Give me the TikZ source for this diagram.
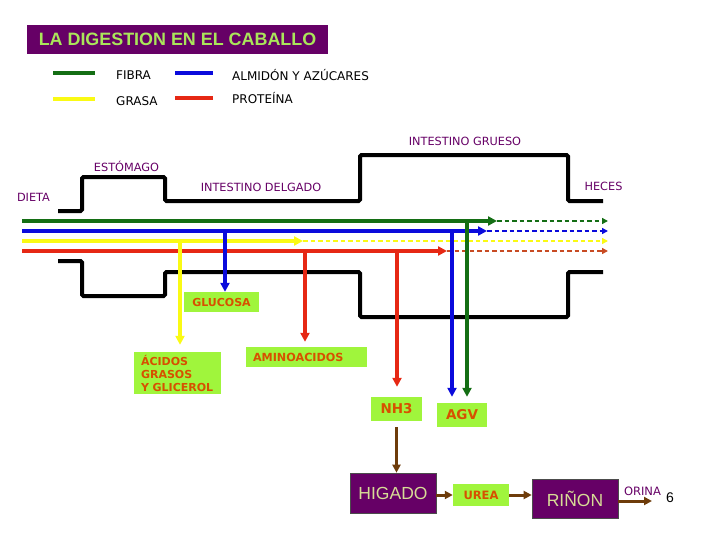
\documentclass[tikz,border=0pt]{standalone}
\usepackage{fontspec}
\setmainfont{DejaVu Sans}
\newfontfamily\arialfont{Liberation Sans}
\usetikzlibrary{arrows.meta,positioning,calc}
\definecolor{Morado}  {RGB}{102,  0,102}
\definecolor{Fibra}   {RGB}{ 20,110, 20}
\definecolor{Almidon} {RGB}{ 10, 10,220}
\definecolor{Grasa}   {RGB}{250,250, 20}
\definecolor{Proteina}{RGB}{230, 40, 20}
\definecolor{ProtRest}{RGB}{200, 75, 35}
\definecolor{Lima}    {RGB}{160,245, 60}
\definecolor{Naranja} {RGB}{215, 80,  0}
\definecolor{Titulo}  {RGB}{170,230, 90}
\definecolor{Paja}    {RGB}{215,220,150}
\definecolor{Cafe}    {RGB}{110, 60, 10}

\begin{document}
\begin{tikzpicture}[x=1pt,y=-1pt,
      tube/.style={line width=4pt,rounded corners=1.5pt},
      flow/.style={line width=3.5pt,-{Triangle[length=9pt,width=9pt]}},
      rest/.style={line width=1.8pt,dash pattern=on 4.5pt off 3pt,
                   -{Triangle[length=6pt,width=6pt]}},
      key/.style={line width=4pt},
      keytxt/.style={anchor=west,inner sep=0pt,font=\fontsize{12}{14}\selectfont},
      part/.style={text=Morado,inner sep=0pt,font=\fontsize{11.3}{13}\selectfont},
      prod/.style={rectangle,fill=Lima,text=Naranja,inner sep=0pt,
                   font=\bfseries\fontsize{11}{13}\selectfont},
      organ/.style={rectangle,fill=Morado,draw=black!70,line width=0.6pt,text=Paja,
                    font=\arialfont\fontsize{17.5}{20}\selectfont,
                    minimum width=86pt,minimum height=40pt,inner sep=0pt},
      brw/.style={line width=3pt,Cafe,-{Triangle[length=8pt,width=8pt]}}]
    \useasboundingbox (0,0) rectangle (705,533);
    \node[fill=Morado,text=Titulo,minimum width=301pt,minimum height=29pt,inner sep=0pt,
          font=\arialfont\bfseries\fontsize{17.9}{20}\selectfont](titulo) at (177.5,39.5)
          {LA DIGESTION EN EL CABALLO};
    \draw[key,Fibra] (53,73) -- (95,73);
    \draw[key,Grasa] (53,99) -- (95,99);
    \draw[key,Almidon] (175,73) -- (213,73);
    \draw[key,Proteina] (175,98) -- (213,98);
    \node[keytxt](kfib) at (116,75) {FIBRA};
    \node[keytxt](kgra) at (116,101) {GRASA};
    \node[keytxt](kalm) at (232,75) {ALMIDÓN Y AZÚCARES};
    \node[keytxt](kpro) at (232,98) {PROTEÍNA};
    \draw[tube] (58,211) -- (82,211) -- (82,177) -- (165,177) -- (165,201) -- (360,201)
          -- (360,155) -- (568,155) -- (568,201) -- (603,201);
    \draw[tube] (58,261) -- (82,261) -- (82,296) -- (165,296) -- (165,272) -- (360,272)
          -- (360,317) -- (568,317) -- (568,272) -- (603,272);
    \node[part](dieta) at (33.5,197) {DIETA};
    \node[part](estomago) at (126.5,166) {ESTÓMAGO};
    \node[part](delgado) at (261,187) {INTESTINO DELGADO};
    \node[part](grueso) at (465,141) {INTESTINO GRUESO};
    \node[part](heces) at (603.5,186) {HECES};
    \coordinate (g0) at (22,221); \coordinate (g1) at (497,221); \coordinate (g2) at (608,221);
    \coordinate (b0) at (22,231); \coordinate (b1) at (487,231); \coordinate (b2) at (608,231);
    \coordinate (y0) at (22,241); \coordinate (y1) at (303,241); \coordinate (y2) at (608,241);
    \coordinate (r0) at (22,251); \coordinate (r1) at (447,251); \coordinate (r2) at (608,251);
    \draw[rest,Fibra] (g1) -- (g2);
    \draw[rest,Almidon] (b1) -- (b2);
    \draw[rest,Grasa] (y1) -- (y2);
    \draw[rest,ProtRest] (r1) -- (r2);
    \draw[flow,Fibra] (g0) -- (g1);
    \draw[flow,Almidon] (b0) -- (b1);
    \draw[flow,Grasa] (y0) -- (y1);
    \draw[flow,Proteina] (r0) -- (r1);
    \node[prod,minimum width=75pt,minimum height=20pt](glucosa) at (221.5,302) {GLUCOSA};
    \node[prod,text width=73pt,inner xsep=7pt,minimum height=42pt,align=left](acidos)
          at (177.5,373) {ÁCIDOS\\GRASOS\\Y GLICEROL};
    \node[prod,text width=107pt,inner xsep=7pt,minimum height=20pt,align=left,
          font=\bfseries\fontsize{11.2}{13}\selectfont](amino) at (306.5,357) {AMINOACIDOS};
    \node[prod,minimum width=51pt,minimum height=24pt,
          font=\bfseries\fontsize{13.5}{15}\selectfont](nh3) at (396.5,409) {NH3};
    \node[prod,minimum width=50pt,minimum height=24pt,
          font=\bfseries\fontsize{13.5}{15}\selectfont](agv) at (462,415) {AGV};
    \coordinate (yb) at (180,241);
    \coordinate (bb) at (225,231);
    \coordinate (rb) at (305,251);
    \coordinate (rn) at (397,251);
    \coordinate (ba) at (452,231);
    \coordinate (ga) at (467,221);
    \draw[flow,Grasa,shorten >=7pt] (yb) -- (yb |- acidos.north);
    \draw[flow,Almidon] (bb) -- (bb |- glucosa.north);
    \draw[flow,Proteina,shorten >=5pt] (rb) -- (rb |- amino.north);
    \draw[flow,Proteina,shorten >=10pt] (rn) -- (rn |- nh3.north);
    \draw[flow,Almidon,shorten >=6pt] (ba) -- (ba |- agv.north);
    \draw[flow,Fibra,shorten >=6pt] (ga) -- (ga |- agv.north);
    \node[organ](higado) at (393,493) {HIGADO};
    \node[prod,minimum width=56pt,minimum height=22pt,
          font=\bfseries\fontsize{11.5}{13}\selectfont](urea) at (481,495) {UREA};
    \node[organ,minimum height=39pt](rinon) at (575,498.5) {RIÑON};
    \coordinate (orina) at (652,501);
    \node[part,font=\fontsize{11.5}{13}\selectfont](orinatxt) at (642.5,491) {ORINA};
    \node[inner sep=0pt,font=\arialfont\fontsize{14}{16}\selectfont](pag) at (670,498) {6};
    \draw[brw,shorten <=6pt] (nh3.south) -- (nh3.south |- higado.north);
    \draw[brw] (higado.east |- urea.west) -- (urea.west);
    \draw[brw] (urea.east) -- (urea.east -| rinon.west);
    \draw[brw] (rinon.east |- orina) -- (orina);
  \end{tikzpicture}
\end{document}
